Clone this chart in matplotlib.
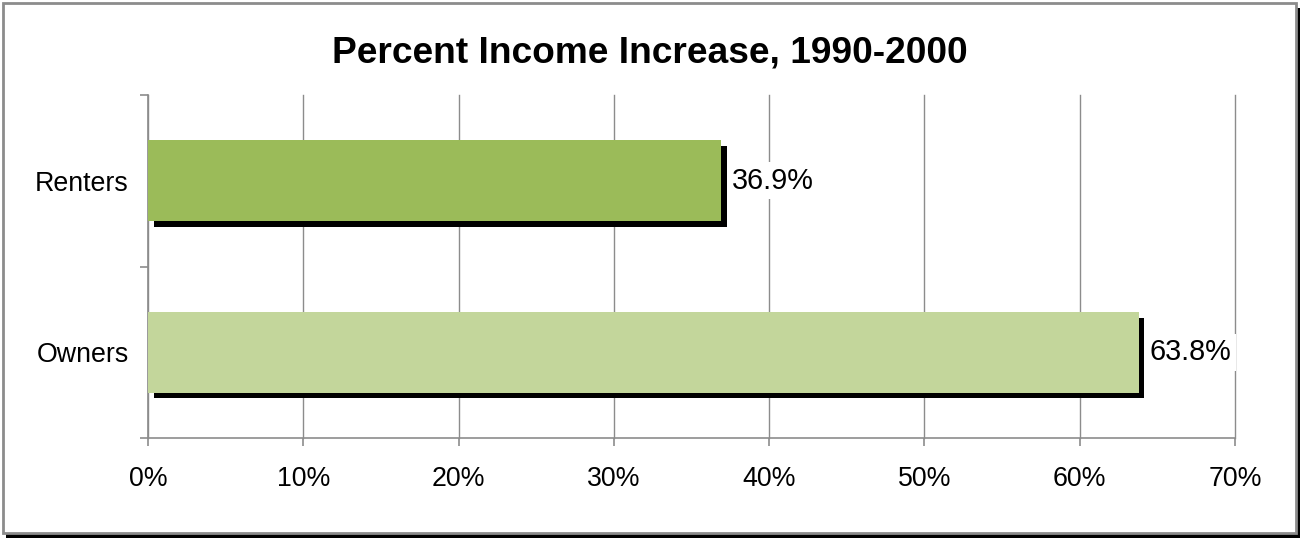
import matplotlib
matplotlib.use('Agg')

import matplotlib.pyplot as plt
import matplotlib.patheffects as pe
from matplotlib.patches import Rectangle
from matplotlib.ticker import FixedLocator, FuncFormatter

# income growth by tenure, 1990-2000
groups = ['Owners', 'Renters']
pct_increase = [63.8, 36.9]
bar_colors = ['#C3D69B', '#9BBB59']
x_ticks = [0, 10, 20, 30, 40, 50, 60, 70]

plt.rcParams['font.family'] = ['Liberation Sans', 'DejaVu Sans']

fig = plt.figure(figsize=(13, 5.38), dpi=100)

# chart frame with a drop shadow (kept behind the axes)
W, H = 1300.0, 538.0
fig.patches.append(Rectangle((6 / W, 0), 1 - 6 / W, 1 - 8 / H, transform=fig.transFigure,
                             facecolor='black', edgecolor='none', zorder=-2))
fig.patches.append(Rectangle((2.5 / W, 5.5 / H), 1 - 6.5 / W, 1 - 8 / H, transform=fig.transFigure,
                             facecolor='white', edgecolor='#8c8c8c', linewidth=2, zorder=-1))

ax = fig.add_axes([148 / W, 1 - 438 / H, (1235 - 148) / W, (438 - 95) / H])
ax.set_facecolor('none')

ypos = list(range(len(groups)))
bars = ax.barh(ypos, pct_increase, height=0.47, color=bar_colors, zorder=3)
for b in bars:
    b.set_path_effects([pe.SimplePatchShadow(offset=(4, -4), shadow_rgbFace='black', alpha=1),
                        pe.Normal()])

for y, v in zip(ypos, pct_increase):
    ax.annotate('%.1f%%' % v, xy=(v, y), xytext=(8, 0), textcoords='offset points',
                ha='left', va='center', fontsize=20.8, zorder=4,
                bbox=dict(boxstyle='square,pad=0.15', facecolor='white', edgecolor='none'))

ax.set_xlim(0, 70)
ax.set_ylim(-0.5, 1.5)
ax.xaxis.set_major_locator(FixedLocator(x_ticks))
ax.xaxis.set_major_formatter(FuncFormatter(lambda v, p: '%d%%' % v))
ax.set_yticks(ypos)
ax.set_yticklabels(groups)
ax.yaxis.set_minor_locator(FixedLocator([-0.5, 0.5, 1.5]))

ax.grid(axis='x', color='#8c8c8c', linewidth=1, zorder=1)
ax.set_axisbelow(True)
for gl in ax.get_xgridlines():
    gl.set_clip_on(False)

for s in ['top', 'right']:
    ax.spines[s].set_visible(False)
for s in ['left', 'bottom']:
    ax.spines[s].set_color('#8c8c8c')
    ax.spines[s].set_linewidth(1.2)

ax.tick_params(axis='x', direction='out', length=6, width=1.2, color='#8c8c8c',
               labelsize=19.3, pad=14)
ax.tick_params(axis='y', which='major', length=0, labelsize=19.3, pad=14)
ax.tick_params(axis='y', which='minor', direction='out', length=6, width=1.2, color='#8c8c8c')

fig.text(0.5, 1 - 62 / H, 'Percent Income Increase, 1990-2000', ha='center', va='baseline',
         fontsize=26.7, fontweight='bold')

plt.savefig('out.png', dpi=100)
